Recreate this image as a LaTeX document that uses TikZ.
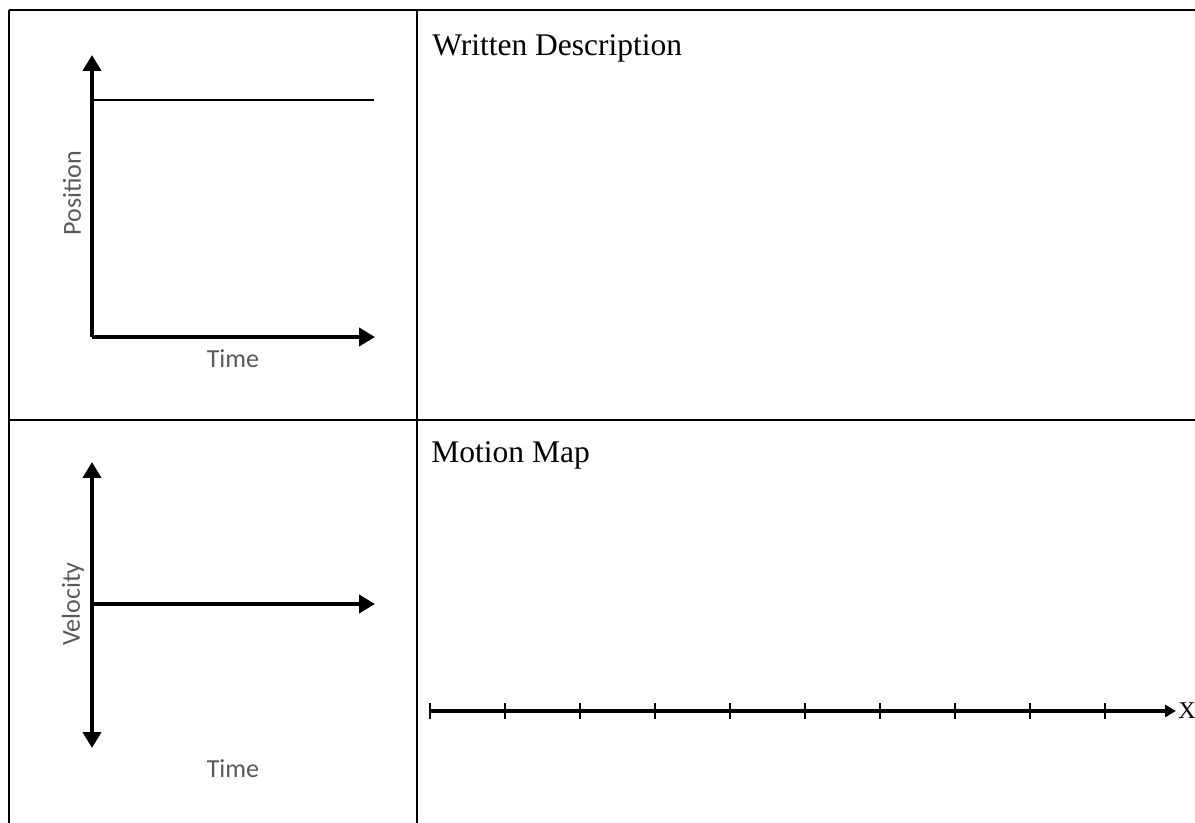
\documentclass[tikz,border=0pt]{standalone}
\usepackage{tikz}
\usepackage{fontspec}
\setmainfont{Liberation Serif}
\newfontfamily\labelfont{Carlito}
\usetikzlibrary{arrows.meta,positioning}
\definecolor{axisgray}{RGB}{89,89,89}

\begin{document}
\begin{tikzpicture}[x=0.5pt,y=-0.5pt,
    cellline/.style={line width=1.2pt},
    axis/.style={line width=2pt,-{Triangle[length=8pt,width=9pt]}},
    axisboth/.style={line width=2pt,{Triangle[length=8pt,width=9pt]}-{Triangle[length=8pt,width=9pt]}},
    graphlabel/.style={font=\labelfont\fontsize{13}{15}\selectfont,text=axisgray,inner sep=0pt},
    heading/.style={font=\fontsize{15.75}{19}\selectfont,inner sep=0pt,anchor=base west},
    mapline/.style={line width=1.8pt,-{Triangle[length=5.5pt,width=6pt]}},
    tick/.style={line width=1.4pt}]
    \useasboundingbox (0,0) rectangle (1195,823);

    % Table
    \draw [cellline] (9,10) -- (1195,10);
    \draw [cellline] (9,420) -- (1195,420);
    \draw [cellline] (9,10) -- (9,823);
    \draw [cellline] (417,10) -- (417,823);

    % Position graph
    \coordinate (porigin) at (92,337);
    \coordinate (ptop) at (92,55);
    \coordinate (pright) at (375,337);
    \coordinate (lstart) at (92,100);
    \coordinate (lend) at (374,100);
    \draw [axis] (porigin) -- (ptop);
    \draw [axis] (porigin) -- (pright);
    \draw [line width=1pt] (lstart) -- (lend);
    \node [graphlabel, rotate=90] (poslabel) at (72,193) {Position};
    \node [graphlabel] (ptime) at (233,359) {Time};

    % Velocity graph
    \coordinate (vtop) at (92,462);
    \coordinate (vbottom) at (92,748);
    \coordinate (vorigin) at (92,604);
    \coordinate (vright) at (375,604);
    \draw [axisboth] (vbottom) -- (vtop);
    \draw [axis] (vorigin) -- (vright);
    \node [graphlabel, rotate=90] (vellabel) at (73,604) {Velocity};
    \node [graphlabel] (vtime) at (233,769) {Time};

    % Headings
    \node [heading] (written) at (432,56) {Written Description};
    \node [heading] (motion) at (431,463) {Motion Map};

    % Motion map
    \coordinate (mstart) at (430,711);
    \coordinate (mend) at (1176,711);
    \draw [mapline] (mstart) -- (mend);
    \foreach \i in {0,...,9}
        \draw [tick] ({430+\i*75},703) -- ({430+\i*75},719);
    \node [anchor=west, inner sep=1pt, font=\fontsize{12}{14}\selectfont] (xlabel) at (mend) {X};
\end{tikzpicture}
\end{document}
